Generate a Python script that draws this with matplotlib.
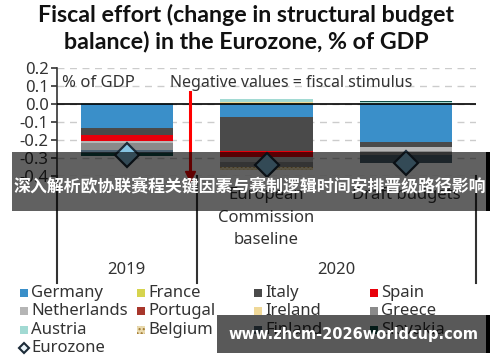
import matplotlib
matplotlib.use("Agg")
import matplotlib.pyplot as plt
from matplotlib.patches import Rectangle
from matplotlib.lines import Line2D
import matplotlib.transforms as mtransforms
import numpy as np

plt.rcParams['font.family'] = ['Noto Sans', 'DejaVu Sans']

# bars: 2019, 2020 EC baseline, 2020 draft budgets
bar_labels = ["", "European\nCommission\nbaseline", "Draft budgets"]
years = ["2019", "2020"]

countries = ["Germany", "France", "Italy", "Spain", "Netherlands", "Portugal",
             "Ireland", "Greece", "Austria", "Belgium", "Finland", "Slovakia"]
germany = [-0.135, -0.070, -0.210]
france = [0.0, 0.005, 0.0]
italy = [-0.035, -0.190, -0.027]
spain = [-0.035, -0.037, 0.0]
netherlands = [-0.010, -0.025, -0.024]
portugal = [0.0, 0.0, 0.0]
ireland = [0.0, 0.005, 0.0]
greece = [-0.040, -0.028, -0.020]
austria = [0.005, 0.020, 0.012]
belgium = [0.0, -0.015, 0.0]
finland = [-0.015, 0.0, -0.045]
slovakia = [-0.020, 0.0, 0.006]
eurozone = [-0.285, -0.340, -0.330]

series = [germany, france, italy, spain, netherlands, portugal,
          ireland, greece, austria, belgium, finland, slovakia]
colors = ["#3a8fc9", "#d6d44e", "#4a4a4a", "#e8000b", "#b5b5b5", "#a8372c",
          "#efd898", "#8a8a8a", "#a2dad3", "#eadbb0", "#4d6170", "#0e4d47"]
hatches = [None] * 9 + ["....", None, None]

fig = plt.figure(figsize=(5, 3.62), dpi=100)
W, H = 500, 362


def fx(px):
    return px / W


def fy(py):
    return 1 - py / H


ax = fig.add_axes([fx(57), fy(176), fx(476) - fx(57), fy(68) - fy(176)])

x = np.arange(3)
pos_base = np.zeros(3)
neg_base = np.zeros(3)
for vals, col, hat in zip(series, colors, hatches):
    v = np.array(vals)
    pos = np.where(v > 0, v, 0)
    neg = np.where(v < 0, v, 0)
    kw = dict(width=0.66, color=col, linewidth=0, zorder=2)
    if hat:
        kw.update(hatch=hat, edgecolor="#a0782e")
    ax.bar(x, pos, bottom=pos_base, **kw)
    ax.bar(x, neg, bottom=neg_base, **kw)
    pos_base += pos
    neg_base += neg

ax.plot(x, eurozone, linestyle="none", marker="D", markersize=12,
        markerfacecolor="#86c4e2", markeredgecolor="#1c2b38",
        markeredgewidth=1.6, zorder=4)

ax.axhline(0, color="black", linewidth=1.2, zorder=3)
ax.set_xlim(-0.5, 2.5)
ax.set_ylim(-0.4, 0.2)
ax.set_yticks([0.2, 0.1, 0.0, -0.1, -0.2, -0.3, -0.4])
ax.set_yticklabels(["0.2", "0.1", "0.0", "-0.1", "-0.2", "-0.3", "-0.4"])
ax.yaxis.grid(True, linestyle=(0, (5, 4)), color="#cccccc", linewidth=1)
ax.set_axisbelow(True)
ax.set_xticks([])
for s in ["top", "right", "bottom"]:
    ax.spines[s].set_visible(False)
ax.spines["left"].set_color("#333333")
ax.spines["left"].set_linewidth(1.2)
ax.tick_params(axis="y", labelsize=12, colors="#333333", length=4, width=1.2, pad=2)

ax.text(0.012, 0.86, "% of GDP", transform=ax.transAxes, fontsize=12,
        color="#333333", va="center")
ax.text(0.27, 0.86, "Negative values = fiscal stimulus", transform=ax.transAxes,
        fontsize=11.5, color="#333333", va="center")

# policy line with arrow head
ax.plot([0.45, 0.45], [0.068, -0.395], color="#ff0000", linewidth=2.2,
        clip_on=False, zorder=5)
ax.plot([0.45], [-0.398], marker="v", markersize=7, color="#ff0000",
        clip_on=False, zorder=5)

# category labels and year separators
trans = mtransforms.blended_transform_factory(ax.transData, fig.transFigure)
for xi, lab in zip(x, bar_labels):
    if lab:
        fig.text(xi, fy(187), lab, transform=trans, ha="center",
                 va="top", fontsize=12, color="#333333", linespacing=1.55)
for xs in [-0.5, 0.5, 2.5]:
    fig.add_artist(Line2D([xs, xs], [fy(176), fy(283)], transform=trans,
                          color="#333333", linewidth=1.5))
fig.text(0, fy(270), years[0], transform=trans, ha="center",
         va="center", fontsize=12, color="#333333")
fig.text(1.5, fy(270), years[1], transform=trans, ha="center",
         va="center", fontsize=12, color="#333333")

# title
fig.text(0.492, fy(28), "Fiscal effort (change in structural budget\nbalance) in the Eurozone, % of GDP",
         ha="center", va="center", fontsize=16.7, fontweight="bold",
         family=["Lato", "DejaVu Sans"], color="#111111", linespacing=1.3)

# legend
col_x = [20, 137, 254, 370]
row_y = [293, 311, 330, 348]
legend_items = list(zip(countries, colors, hatches))
for i, (name, col, hat) in enumerate(legend_items):
    r, c = divmod(i, 4)
    px, py = col_x[c], row_y[r]
    fig.add_artist(Rectangle((fx(px), fy(py + 4)), fx(8), 8 / H,
                             transform=fig.transFigure, facecolor=col,
                             hatch=hat, edgecolor="#a0782e" if hat else "none",
                             linewidth=0))
    fig.text(fx(px + 11), fy(py), name, fontsize=12, color="#333333", va="center")
fig.add_artist(Line2D([fx(col_x[0] + 4)], [fy(row_y[3])], marker="D",
                      markersize=5, markerfacecolor="#eaf4fa",
                      markeredgecolor="#1c2b38", markeredgewidth=1.5,
                      transform=fig.transFigure))
fig.text(fx(col_x[0] + 11), fy(row_y[3]), "Eurozone", fontsize=12,
         color="#333333", va="center")

# overlay banners
fig.add_artist(Rectangle((fx(12), fy(211)), fx(477), 59 / H, transform=fig.transFigure,
                         facecolor="black", alpha=0.62, linewidth=0, zorder=10))
fig.add_artist(Rectangle((fx(486), fy(211)), fx(4), 59 / H, transform=fig.transFigure,
                         facecolor="black", linewidth=0, zorder=10))
fig.text(0.5, fy(186), "深入解析欧协联赛程关键因素与赛制逻辑时间安排晋级路径影响",
         ha="center", va="center", fontsize=12.2, fontweight="bold", color="white",
         family=["Noto Sans CJK SC", "DejaVu Sans"], zorder=11)
fig.add_artist(Rectangle((fx(217), fy(353)), fx(273), 38 / H, transform=fig.transFigure,
                         facecolor="black", alpha=0.65, linewidth=0, zorder=10))
fig.add_artist(Rectangle((fx(486), fy(353)), fx(4), 38 / H, transform=fig.transFigure,
                         facecolor="black", linewidth=0, zorder=10))
fig.text(fx(353), fy(335), "www.zhcm-2026worldcup.com", ha="center", va="center",
         fontsize=10.5, fontweight="bold", color="white",
         family=["DejaVu Sans"], zorder=11)

fig.savefig("out.png", dpi=100)
